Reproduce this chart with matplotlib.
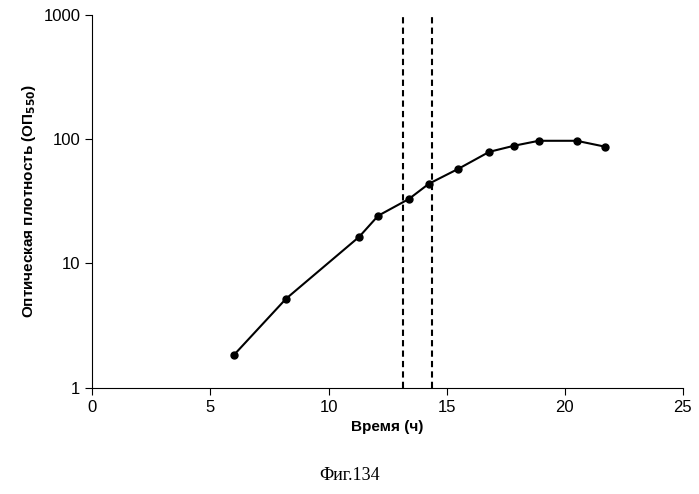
import matplotlib
matplotlib.use("Agg")
import matplotlib.pyplot as plt
plt.rcParams["font.family"] = "Liberation Sans"

time_h = [6.0, 8.2, 11.3, 12.1, 13.4, 14.25, 15.5, 16.8, 17.85, 18.9, 20.5, 21.7]
od550 = [1.84, 5.2, 16.4, 24.2, 33, 43.8, 57.8, 79, 88.5, 97, 97, 87]
vlines = [13.15, 14.4]
xticks = [0, 5, 10, 15, 20, 25]

fig = plt.figure(figsize=(6.99, 4.94), dpi=100)
ax = fig.add_axes([0.132, 0.215, 0.845, 0.755])
ax.plot(time_h, od550, color="black", lw=1.5, marker="o", ms=5)
for v in vlines:
    ax.axvline(v, color="black", ls=(0, (3, 2)), lw=1.5)
ax.set_yscale("log")
ax.set_ylim(1, 1000)
ax.set_xlim(0, 25)
ax.set_xticks(xticks)
ax.set_yticks([1, 10, 100, 1000])
ax.set_yticklabels(["1", "10", "100", "1000"])
ax.minorticks_off()
ax.tick_params(labelsize=12, direction="out", length=5)
for s in ["top", "right"]:
    ax.spines[s].set_visible(False)
ax.set_xlabel("Время (ч)", fontsize=11, fontweight="bold")
ax.set_ylabel("Оптическая плотность (ОП$_{\\mathbf{550}}$)", fontsize=11, fontweight="bold")
fig.text(0.5, 0.028, "Фиг.134", ha="center", fontsize=13, family="Liberation Serif")
fig.savefig("out.png")
